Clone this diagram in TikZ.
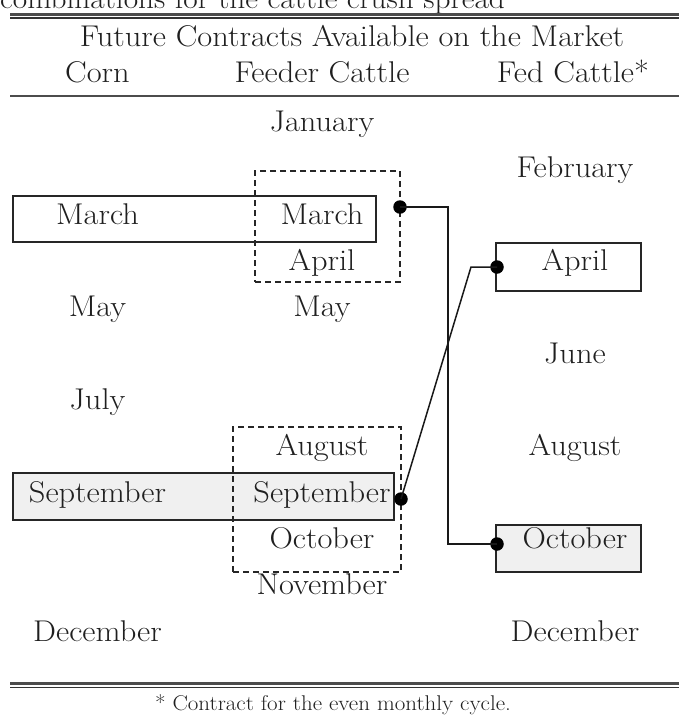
\documentclass[tikz,border=0pt]{standalone}
\usepackage{fontspec}
\setmainfont{Latin Modern Roman}[FakeStretch=1.08]
\usetikzlibrary{calc}
\begin{document}
\begin{tikzpicture}[x=1pt,y=-1pt,
  txt/.style={anchor=base,inner sep=0pt,font=\fontsize{30}{36}\selectfont,text=black!88},
  note/.style={anchor=base,inner sep=0pt,font=\fontsize{21.3}{26}\selectfont,text=black!88},
  box/.style={draw=black!85,line width=1.8pt,inner sep=0pt,rectangle},
  shaded/.style={box,fill=black!6},
  dashbox/.style={draw=black!85,line width=1.5pt,dash pattern=on 6pt off 4pt,inner sep=0pt,rectangle},
  dot/.style={circle,fill=black,inner sep=0pt,minimum size=13.5pt},
  conn/.style={draw=black!90,line width=1.5pt},
  rulethick/.style={draw=black!70,line width=2.6pt},
  rulethin/.style={draw=black!80,line width=1.1pt}]
\useasboundingbox (0,0) rectangle (679,716);
\clip (0,0) rectangle (679,716);

% caption line running in from above
\node[txt,anchor=base west,font=\fontsize{29}{34}\selectfont] (caption) at (0,8) {combinations for the cattle crush spread};

% horizontal rules
\coordinate (rl) at (10,0);
\coordinate (rr) at (679,0);
\draw[rulethick] (rl |- 0,14.5) -- (rr |- 0,14.5);
\draw[rulethin]  (rl |- 0,18)   -- (rr |- 0,18);
\draw[rulethick,line width=2pt] (rl |- 0,96) -- (rr |- 0,96);
\draw[rulethick] (rl |- 0,683.5) -- (rr |- 0,683.5);
\draw[rulethin]  (rl |- 0,687.5) -- (rr |- 0,687.5);

% headings
\node[txt] (title) at (352,46) {Future Contracts Available on the Market};
\node[txt] (hcorn) at (97.5,82) {Corn};
\node[txt] (hfeed) at (322,82) {Feeder Cattle};
\node[txt] (hfed)  at (573,82) {Fed Cattle*};

% spread boxes
\node[box,minimum width=363pt,minimum height=46pt] (bMar) at (194.5,219) {};
\node[shaded,minimum width=381pt,minimum height=47pt] (bSep) at (203.5,496.5) {};
\node[box,minimum width=145pt,minimum height=48pt] (bApr) at (568.5,267) {};
\node[shaded,minimum width=145pt,minimum height=47pt] (bOct) at (568.5,548.5) {};

% feeder cattle groupings
\node[dashbox,minimum width=145pt,minimum height=111pt] (gSpring) at (327.5,226.5) {};
\node[dashbox,minimum width=168pt,minimum height=145pt] (gFall) at (317,499.5) {};

% corn contracts
\node[txt] (c3)  at (97.5,224)   {March};
\node[txt] (c5)  at (97.5,316.7) {May};
\node[txt] (c7)  at (97.5,409.3) {July};
\node[txt] (c9)  at (97.5,502)   {September};
\node[txt] (c12) at (97.5,641)   {December};

% feeder cattle contracts
\node[txt] (f1)  at (322,131.3) {January};
\node[txt] (f3)  at (322,224)   {March};
\node[txt] (f4)  at (322,270.3) {April};
\node[txt] (f5)  at (322,316.7) {May};
\node[txt] (f8)  at (322,455.7) {August};
\node[txt] (f9)  at (322,502)   {September};
\node[txt] (f10) at (322,548.3) {October};
\node[txt] (f11) at (322,594.7) {November};

% fed cattle contracts
\node[txt] (e2)  at (575,177.7) {February};
\node[txt] (e4)  at (575,270.3) {April};
\node[txt] (e6)  at (575,363)   {June};
\node[txt] (e8)  at (575,455.7) {August};
\node[txt] (e10) at (575,548.3) {October};
\node[txt] (e12) at (575,641)   {December};

% links between the spreads
\node[dot] (dMar) at (400,207) {};
\node[dot] (dSep) at (401,499) {};
\node[dot] (dApr) at (497,267) {};
\node[dot] (dOct) at (497,544) {};
\coordinate (trunk) at (448,207);
\coordinate (kink) at (471,267);
\draw[conn] (dMar.center) -- (trunk) |- (dOct.center);
\draw[conn] (dApr.center) -- (kink) -- (dSep.center);

% footnote
\node[note] (foot) at (333,710) {* Contract for the even monthly cycle.};
\end{tikzpicture}
\end{document}
